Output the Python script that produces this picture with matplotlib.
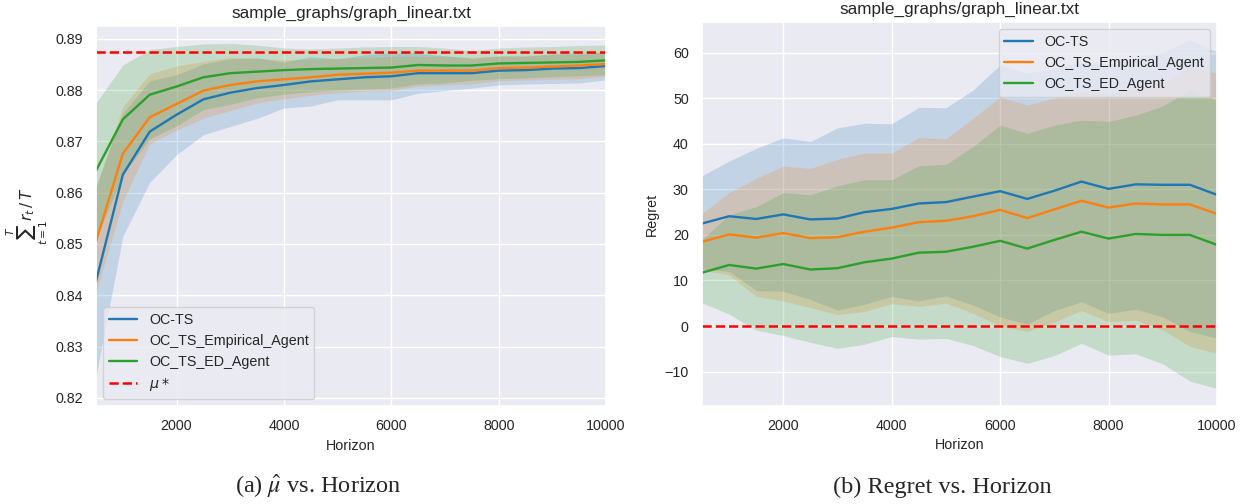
import matplotlib
matplotlib.use("Agg")
import matplotlib.pyplot as plt
import seaborn as sns

# ============================================================
# Data
# ============================================================
horizon = [500, 1000, 1500, 2000, 2500, 3000, 3500, 4000, 4500, 5000,
           5500, 6000, 6500, 7000, 7500, 8000, 8500, 9000, 9500, 10000]

labels = ["OC-TS", "OC_TS_Empirical_Agent", "OC_TS_ED_Agent"]

mu_star = 0.8875

# (a) average reward
oc_ts_mu = [0.8427, 0.8635, 0.8719, 0.8752, 0.8782, 0.8795, 0.8804, 0.8810, 0.8817, 0.8821,
            0.8825, 0.8827, 0.8833, 0.8833, 0.8833, 0.8838, 0.8839, 0.8842, 0.8843, 0.8847]
oc_ts_mu_lo = [0.8242, 0.8515, 0.8620, 0.8674, 0.8713, 0.8729, 0.8745, 0.8765, 0.8769, 0.8781,
               0.8781, 0.8781, 0.8794, 0.8799, 0.8804, 0.8810, 0.8812, 0.8813, 0.8814, 0.8820]
oc_ts_mu_hi = [0.8612, 0.8755, 0.8818, 0.8830, 0.8851, 0.8861, 0.8863, 0.8855, 0.8865, 0.8861,
               0.8869, 0.8873, 0.8872, 0.8867, 0.8862, 0.8866, 0.8866, 0.8871, 0.8872, 0.8874]

emp_mu = [0.8505, 0.8676, 0.8747, 0.8773, 0.8799, 0.8810, 0.8817, 0.8821, 0.8825, 0.8830,
          0.8832, 0.8834, 0.8838, 0.8838, 0.8838, 0.8843, 0.8844, 0.8846, 0.8848, 0.8851]
emp_mu_lo = [0.8405, 0.8583, 0.8695, 0.8722, 0.8745, 0.8760, 0.8775, 0.8783, 0.8790, 0.8795,
             0.8798, 0.8799, 0.8808, 0.8810, 0.8812, 0.8818, 0.8820, 0.8821, 0.8822, 0.8827]
emp_mu_hi = [0.8610, 0.8768, 0.8832, 0.8847, 0.8856, 0.8864, 0.8862, 0.8859, 0.8860, 0.8862,
             0.8863, 0.8866, 0.8866, 0.8866, 0.8864, 0.8867, 0.8868, 0.8869, 0.8870, 0.8875]

ed_mu = [0.8643, 0.8743, 0.8791, 0.8807, 0.8825, 0.8833, 0.8836, 0.8839, 0.8841, 0.8842,
         0.8843, 0.8844, 0.8849, 0.8848, 0.8848, 0.8852, 0.8853, 0.8854, 0.8855, 0.8858]
ed_mu_lo = [0.8510, 0.8635, 0.8705, 0.8730, 0.8762, 0.8772, 0.8785, 0.8792, 0.8797, 0.8800,
            0.8802, 0.8804, 0.8812, 0.8814, 0.8819, 0.8822, 0.8824, 0.8826, 0.8828, 0.8830]
ed_mu_hi = [0.8775, 0.8849, 0.8879, 0.8885, 0.8890, 0.8891, 0.8888, 0.8882, 0.8880, 0.8882,
            0.8884, 0.8885, 0.8885, 0.8882, 0.8877, 0.8882, 0.8884, 0.8885, 0.8887, 0.8888]

# (b) regret
oc_ts_reg = [22.5, 24.1, 23.5, 24.5, 23.4, 23.6, 25.0, 25.7, 26.9, 27.2,
             28.4, 29.6, 27.9, 29.7, 31.7, 30.1, 31.1, 31.0, 31.0, 28.8]
oc_ts_reg_lo = [12.5, 12.0, 7.8, 7.6, 5.8, 3.5, 4.8, 6.5, 5.5, 6.6,
                4.6, 2.0, 0.4, 3.4, 5.3, 2.8, 3.7, 2.0, -1.2, -2.7]
oc_ts_reg_hi = [33.0, 36.2, 39.0, 41.3, 40.5, 43.5, 44.5, 44.4, 48.0, 47.9,
                51.8, 57.3, 55.5, 56.5, 58.0, 57.5, 59.0, 60.0, 62.8, 60.2]

emp_reg = [18.5, 20.1, 19.4, 20.4, 19.3, 19.5, 20.7, 21.6, 22.8, 23.1,
           24.1, 25.5, 23.7, 25.6, 27.5, 26.0, 26.9, 26.7, 26.7, 24.6]
emp_reg_lo = [12.3, 11.2, 6.5, 5.5, 4.0, 2.5, 3.2, 4.9, 4.3, 5.0,
              2.8, 0.0, -1.2, 0.9, 3.4, 0.9, 1.3, -0.9, -4.5, -6.0]
emp_reg_hi = [24.7, 29.3, 32.4, 35.1, 34.6, 36.6, 38.0, 38.0, 41.4, 41.1,
              45.6, 50.3, 48.5, 50.0, 51.5, 51.0, 52.0, 53.5, 57.0, 55.5]

ed_reg = [11.7, 13.4, 12.6, 13.6, 12.4, 12.7, 14.0, 14.8, 16.1, 16.3,
          17.4, 18.7, 17.0, 18.9, 20.7, 19.2, 20.2, 20.0, 20.0, 17.8]
ed_reg_lo = [5.1, 2.6, -0.9, -2.1, -3.6, -4.9, -4.0, -2.3, -2.9, -2.7,
             -4.3, -6.7, -8.2, -6.5, -3.8, -6.4, -6.1, -8.3, -12.1, -13.7]
ed_reg_hi = [19.0, 24.4, 26.2, 29.3, 28.8, 30.8, 32.1, 32.1, 35.2, 35.5,
             39.4, 44.1, 42.3, 44.1, 45.2, 44.9, 46.3, 48.3, 51.8, 49.6]

# ============================================================
# Style
# ============================================================
sns.set_theme(style="darkgrid")
plt.rcParams["font.family"] = ["Liberation Sans", "DejaVu Sans"]
plt.rcParams["font.size"] = 10.3
plt.rcParams["xtick.labelsize"] = 10.3
plt.rcParams["ytick.labelsize"] = 10.3
plt.rcParams["axes.labelsize"] = 10.3
plt.rcParams["legend.fontsize"] = 10.3
plt.rcParams["axes.titlesize"] = 12.3

colors = ["#1f77b4", "#ff7f0e", "#2ca02c"]
title = "sample_graphs/graph_linear.txt"

fig = plt.figure(figsize=(12.5, 5.04), dpi=100)
ax1 = fig.add_axes([0.0768, 0.1944, 0.408, 0.754])
ax2 = fig.add_axes([0.5616, 0.195, 0.412, 0.761])

# ============================================================
# (a) mu-hat vs horizon
# ============================================================
means = [oc_ts_mu, emp_mu, ed_mu]
lows = [oc_ts_mu_lo, emp_mu_lo, ed_mu_lo]
highs = [oc_ts_mu_hi, emp_mu_hi, ed_mu_hi]
for m, lo, hi, c, lab in zip(means, lows, highs, colors, labels):
    ax1.plot(horizon, m, color=c, lw=1.7, label=lab)
    ax1.fill_between(horizon, lo, hi, color=c, alpha=0.2, lw=0)
ax1.axhline(mu_star, color="red", ls="--", lw=1.8, label=r"$\mu*$")
ax1.set_xlim(500, 10000)
ax1.set_ylim(0.8184, 0.8925)
ax1.set_xticks([2000, 4000, 6000, 8000, 10000])
ax1.set_yticks([0.82, 0.83, 0.84, 0.85, 0.86, 0.87, 0.88, 0.89])
ax1.set_title(title)
ax1.set_xlabel("Horizon")
ax1.set_ylabel(r"$\sum_{t=1}^{T} r_t\,/\,T$", fontsize=11)
ax1.legend(loc="lower left")

# ============================================================
# (b) regret vs horizon
# ============================================================
means = [oc_ts_reg, emp_reg, ed_reg]
lows = [oc_ts_reg_lo, emp_reg_lo, ed_reg_lo]
highs = [oc_ts_reg_hi, emp_reg_hi, ed_reg_hi]
for m, lo, hi, c, lab in zip(means, lows, highs, colors, labels):
    ax2.plot(horizon, m, color=c, lw=1.7, label=lab)
    ax2.fill_between(horizon, lo, hi, color=c, alpha=0.2, lw=0)
ax2.axhline(0, color="red", ls="--", lw=1.8)
ax2.set_xlim(500, 10000)
ax2.set_ylim(-17.5, 66.7)
ax2.set_xticks([2000, 4000, 6000, 8000, 10000])
ax2.set_yticks([-10, 0, 10, 20, 30, 40, 50, 60])
ax2.set_title(title)
ax2.set_xlabel("Horizon")
ax2.set_ylabel("Regret")
ax2.legend(loc="upper right")

# ============================================================
# Captions
# ============================================================
fig.text(0.2544, 0.022, r"(a) $\hat{\mu}$ vs. Horizon", ha="center", va="baseline",
         family="Liberation Serif", fontsize=17.5, math_fontfamily="stix")
fig.text(0.7536, 0.022, "(b) Regret vs. Horizon", ha="center", va="baseline",
         family="Liberation Serif", fontsize=17.5)

fig.savefig("out.png", dpi=100)
